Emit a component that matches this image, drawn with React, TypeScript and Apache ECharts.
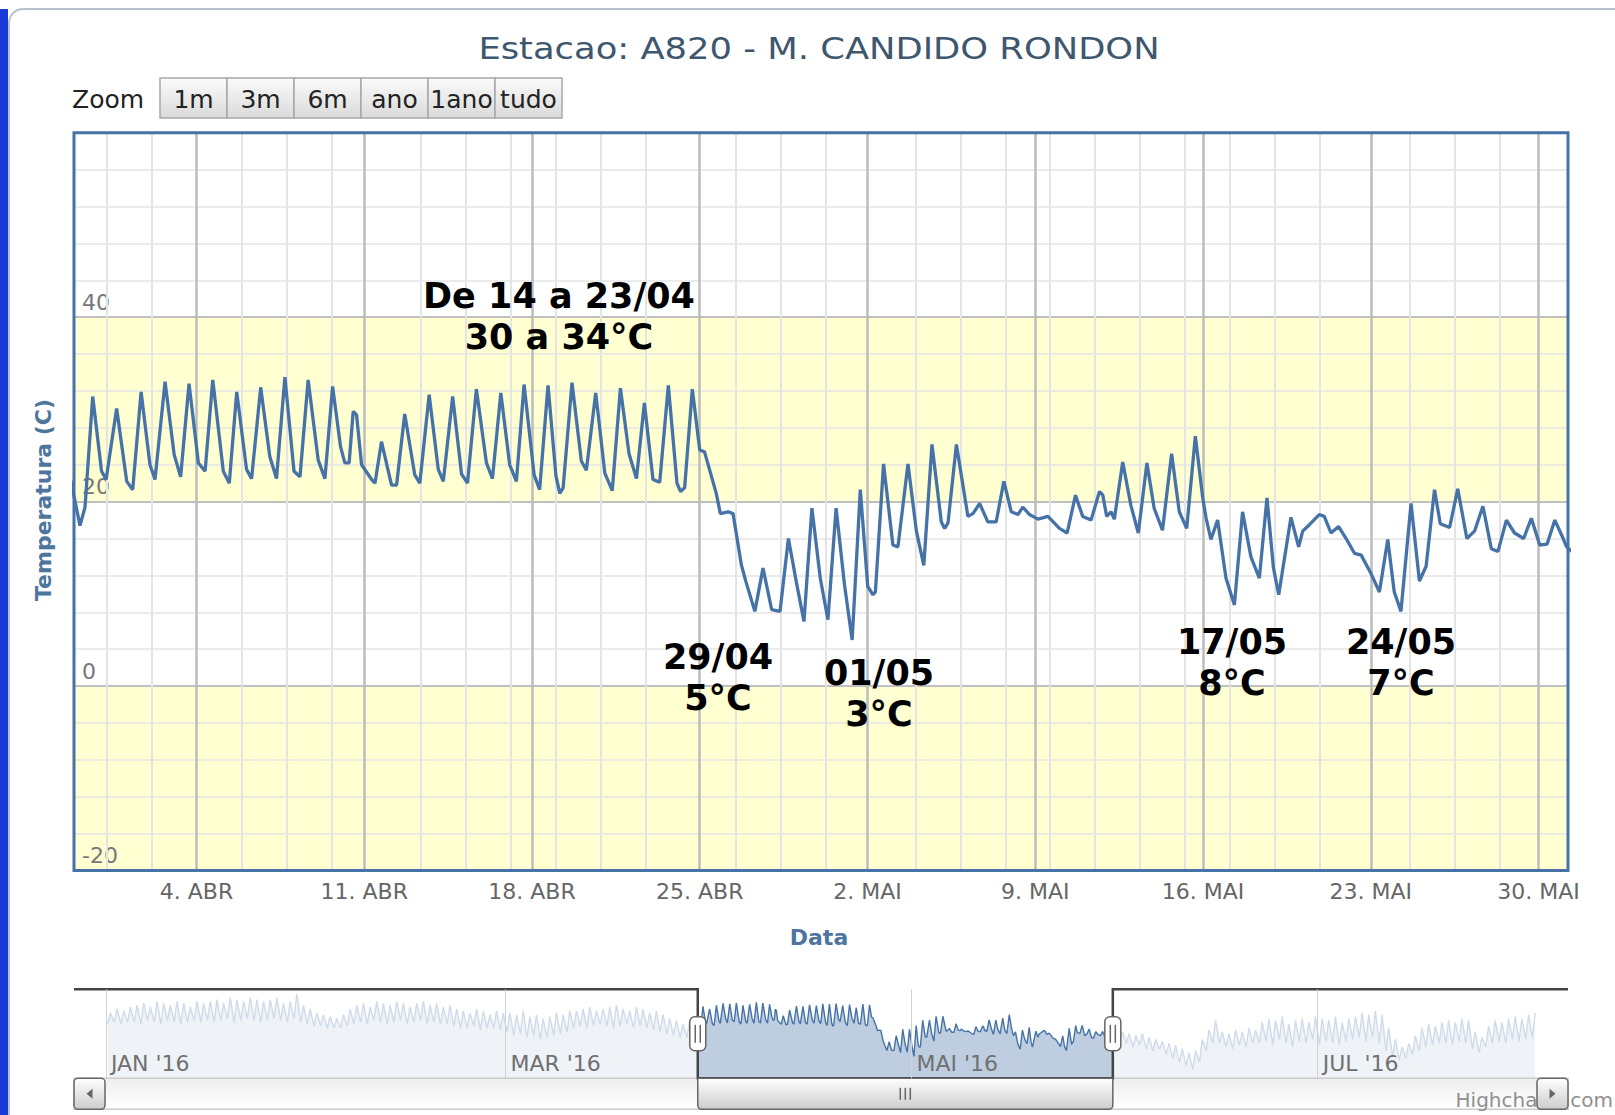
import React, { useEffect, useRef } from "react";
import * as echarts from "echarts";

// ---------------- texts ----------------
const TITLE = "Estacao: A820 - M. CANDIDO RONDON";
const Y_TITLE = "Temperatura (C)";
const X_TITLE = "Data";
const ZOOM_LABEL = "Zoom";
const ZOOM_BUTTONS = ["1m", "3m", "6m", "ano", "1ano", "tudo"];
const CREDIT = "Highcharts.com";
const MONTHS = ["JAN", "FEV", "MAR", "ABR", "MAI", "JUN", "JUL", "AGO", "SET", "OUT", "NOV", "DEZ"];
const ANNOTATIONS = [
  { lines: ["De 14 a 23/04", "30 a 34°C"], x: 559, y: 296 },
  { lines: ["29/04", "5°C"], x: 718, y: 657 },
  { lines: ["01/05", "3°C"], x: 879, y: 673 },
  { lines: ["17/05", "8°C"], x: 1232, y: 642 },
  { lines: ["24/05", "7°C"], x: 1401, y: 642 },
];

// ---------------- time base ----------------
// x unit: days since 2016-04-04 00:00
const DAY_MS = 86400000;
const EPOCH_UTC = Date.UTC(2016, 3, 4);
const dayOf = (y: number, m: number, d: number) => (Date.UTC(y, m, d) - EPOCH_UTC) / DAY_MS;

// visible window of the main chart
const VIEW_START = -5.11;
const VIEW_END = 57.23;
const WEEK_TICKS = [0, 7, 14, 21, 28, 35, 42, 49, 56];
const MINOR_STEP_DAYS = 1.875;
const MINOR_MIN_GAP = 0.55;

const Y_MIN = -20;
const Y_MAX = 60;
const Y_STEP = 20;

// navigator
const NAV_START = -98.8;
const NAV_END = 125.6;
const NAV_Y_MIN = -6.5;
const NAV_Y_MAX = 40.4;
const NAV_TICK_MONTHS = [0, 2, 4, 6];

// ---------------- data: main series (day offset, °C) ----------------
const sampleDay = [
  -5.3, -4.86, -4.65, -4.33,
  -3.96, -3.77, -3.33,
  -2.91, -2.66, -2.31,
  -1.94, -1.73, -1.31,
  -0.93, -0.66, -0.31,
  0.08, 0.36, 0.68,
  1.12, 1.37, 1.68,
  2.09, 2.3, 2.68,
  3.06, 3.34, 3.69,
  4.07, 4.32, 4.66,
  5.08, 5.36, 5.68,
  6.01, 6.19, 6.37, 6.54, 6.68,
  6.89, 7.31, 7.45, 7.72,
  8.14, 8.35, 8.69,
  9.11, 9.32, 9.71,
  10.09, 10.3, 10.69,
  11.06, 11.31, 11.68,
  12.1, 12.35, 12.7,
  13.07, 13.35, 13.67,
  14.09, 14.32, 14.67,
  15.0, 15.16, 15.3, 15.67,
  16.06, 16.27, 16.66,
  17.04, 17.35, 17.69,
  18.05, 18.36, 18.69,
  19.05, 19.33, 19.69,
  20.05, 20.2, 20.37, 20.69,
  21.0, 21.2, 21.69, 21.86,
  22.18, 22.39, 22.74, 22.93,
  23.3, 23.64, 24.0,
  24.35, 24.7, 25.03,
  25.35, 25.68, 26.03,
  26.35, 26.69, 27.04,
  27.36, 27.7, 28.01, 28.23, 28.33,
  28.67, 29.06, 29.27,
  29.69, 30.04, 30.35,
  30.69, 31.08, 31.22, 31.36,
  31.71, 32.19, 32.4,
  32.68, 33.02, 33.37,
  33.69, 34.0, 34.28,
  34.48, 34.76, 35.11,
  35.53, 36.01, 36.33,
  36.68, 36.98, 37.33,
  37.68, 37.82, 37.98, 38.16, 38.3,
  38.65, 38.99, 39.3,
  39.66, 39.96, 40.31,
  40.69, 41.01, 41.32,
  41.68, 41.99, 42.13, 42.33, 42.61,
  42.96, 43.31, 43.65,
  44.0, 44.35, 44.67,
  44.94, 45.16, 45.67,
  45.99, 46.16, 46.44, 46.85,
  47.06, 47.34, 47.66,
  47.97, 48.32, 48.6,
  49.01, 49.36, 49.71,
  49.98, 50.26, 50.68,
  51.03, 51.31, 51.66, 51.9,
  52.29, 52.63,
  53.01, 53.33, 53.68,
  54.03, 54.31, 54.66,
  55.0, 55.38, 55.7,
  56.05, 56.36, 56.68,
  57.03, 57.17, 57.4,
];
const temperature = [
  23.0, 17.4, 19.4, 31.4,
  23.3, 22.4, 30.1,
  22.2, 21.3, 31.9,
  24.0, 22.4, 33.0,
  25.1, 22.7, 32.8,
  24.2, 23.3, 33.2,
  23.3, 22.0, 31.9,
  23.5, 22.5, 32.4,
  24.9, 22.5, 33.5,
  23.3, 22.7, 33.2,
  24.5, 22.5, 32.5,
  26.0, 24.2, 24.2, 29.8, 29.4,
  24.0, 22.4, 22.0, 26.5,
  21.8, 21.8, 29.5,
  22.9, 22.0, 31.6,
  23.5, 22.2, 31.4,
  23.0, 22.0, 32.2,
  24.2, 22.5, 31.8,
  24.0, 22.2, 32.7,
  22.9, 21.3, 32.6,
  22.8, 20.9, 21.5, 32.9,
  24.4, 23.4, 31.8,
  23.1, 21.2, 32.3,
  25.2, 22.5, 30.7,
  22.4, 22.1, 32.6,
  22.0, 21.1, 21.5, 32.2,
  25.6, 25.4, 20.9, 18.7,
  18.9, 18.7, 13.1, 11.3,
  8.1, 12.8, 8.3,
  8.1, 16.0, 11.3,
  7.0, 19.3, 11.7,
  7.2, 19.3, 11.0,
  5.0, 21.3, 10.8, 9.9, 10.2,
  24.1, 15.3, 15.1,
  24.1, 16.8, 13.1,
  26.2, 17.8, 17.1, 17.7,
  26.2, 18.4, 18.7,
  19.8, 17.8, 17.8,
  22.2, 18.9, 18.6,
  19.4, 18.6, 18.1,
  18.4, 17.1, 16.6,
  20.7, 18.4, 18.0,
  21.1, 20.7, 18.4, 18.9, 18.1,
  24.3, 19.6, 16.6,
  24.2, 19.3, 16.9,
  25.2, 18.9, 17.1,
  27.1, 20.4, 18.2, 15.9, 18.0,
  11.7, 8.8, 18.9,
  14.0, 11.7, 20.4,
  12.8, 9.9, 18.3,
  15.1, 16.8, 17.5, 18.6,
  18.4, 16.6, 17.3,
  16.0, 14.4, 14.2,
  12.2, 10.2, 15.9,
  10.2, 8.1, 19.8,
  11.4, 13.0, 21.3, 17.6,
  17.2, 21.4,
  16.0, 16.8, 19.5,
  14.9, 14.6, 18.0,
  16.6, 16.0, 18.2,
  15.3, 15.4, 18.0,
  16.0, 15.1, 14.6,
];

// ---------------- data: navigator, outside the window (daily max / min) ----------------
// 2016-01-01 .. 2016-03-29
const navEarlyMax = [
  28, 30, 29, 31,
  32, 33, 31, 34, 33, 32, 34, 33, 31, 34, 33,
  34, 35, 33, 36, 35, 34, 36, 35, 34, 35, 36,
  33, 34,
  38,
  32, 30, 28, 27, 26, 25, 27,
  30, 32, 33, 31, 34, 33, 32, 34, 33, 31, 33, 34, 32, 33, 31, 32,
  30, 29, 28, 30, 29, 27, 29, 28,
  28, 27, 29, 26, 27, 25, 26, 28, 27, 29,
  29, 30, 31, 29, 30, 31, 32, 30, 29, 31, 30, 28, 29,
  27, 25, 24, 22, 24, 23,
];
const navEarlyMin = [
  22, 23, 22, 23,
  23, 22, 24, 23, 22, 24, 23, 22, 23, 24, 23,
  24, 23, 24, 25, 23, 24, 25, 24, 23, 24, 25,
  24, 23,
  25,
  23, 22, 21, 21, 20, 20, 20,
  21, 22, 23, 22, 24, 23, 22, 23, 24, 22, 23, 24, 22, 23, 22, 22,
  21, 20, 20, 21, 19, 20, 20, 19,
  18, 16, 17, 15, 16, 14, 15, 16, 17, 18,
  20, 21, 20, 21, 22, 21, 20, 21, 22, 20, 21, 20, 19,
  18, 17, 16, 15, 15, 17,
];
// 2016-06-01 .. 2016-08-02
const navLateMax = [
  18, 17, 16, 17, 15, 14, 13,
  12, 11, 9, 7, 8,
  14, 19, 24,
  18, 17, 19, 18, 20, 19,
  23, 25, 24, 26, 22, 24, 25, 23, 26, 25, 24, 26, 23, 25,
  26, 28, 27, 29, 27,
  20, 14, 10, 12, 16,
  20, 22, 21, 23,
  24, 23, 25, 24,
  18, 15,
  21, 24, 23, 25, 26, 25, 27, 28,
];
const navLateMin = [
  13, 12, 10, 11, 9, 8, 9,
  6, 4, 2, 0, -2,
  2, 8, 12,
  12, 10, 9, 11, 10, 12,
  12, 13, 11, 14, 12, 10, 13, 12, 14, 11, 13, 12, 11, 13,
  14, 15, 13, 15, 12,
  8, 5, 3, 4, 6,
  8, 10, 11, 12,
  12, 11, 13, 12,
  9, 7,
  10, 12, 13, 12, 14, 13, 14, 15,
];
const MIN_TIME_OF_DAY = 0.25;
const MAX_TIME_OF_DAY = 0.67;

// ---------------- layout ----------------
const W = 1615;
const H = 1115;
const PLOT = { left: 74, top: 132.8, width: 1494, height: 737.7 };
const NAV = { left: 74, top: 989.3, width: 1494, height: 89 };
const SCROLL_H = 31;
const FONT = '"DejaVu Sans", "Liberation Sans", sans-serif';

function weekLabel(v: number) {
  const dt = new Date(EPOCH_UTC + Math.round(v * DAY_MS));
  return `${dt.getUTCDate()}. ${MONTHS[dt.getUTCMonth()]}`;
}
function navLabel(v: number) {
  const dt = new Date(EPOCH_UTC + Math.round(v * DAY_MS));
  return `${MONTHS[dt.getUTCMonth()]} '${String(dt.getUTCFullYear()).slice(2)}`;
}

function buildOption() {
  const mainData = sampleDay.map((d, i) => [d, temperature[i]]);

  const minorTicks: number[] = [];
  for (let k = Math.ceil(VIEW_START / MINOR_STEP_DAYS); k * MINOR_STEP_DAYS <= VIEW_END; k++) {
    const v = k * MINOR_STEP_DAYS;
    const nearest = Math.round(v / 7) * 7;
    if (Math.abs(v - nearest) > MINOR_MIN_GAP) minorTicks.push(v);
  }

  const jan1 = dayOf(2016, 0, 1);
  const jun1 = dayOf(2016, 5, 1);
  const navData: number[][] = [];
  navEarlyMax.forEach((mx, i) => {
    navData.push([jan1 + i + MIN_TIME_OF_DAY, navEarlyMin[i]]);
    navData.push([jan1 + i + MAX_TIME_OF_DAY, mx]);
  });
  mainData.forEach((p) => navData.push(p));
  navLateMax.forEach((mx, i) => {
    navData.push([jun1 + i + MIN_TIME_OF_DAY, navLateMin[i]]);
    navData.push([jun1 + i + MAX_TIME_OF_DAY, mx]);
  });
  const navTicks = NAV_TICK_MONTHS.map((m) => dayOf(2016, m, 1));

  const grad = (a: string, b: string) =>
    new echarts.graphic.LinearGradient(0, 0, 0, 1, [
      { offset: 0, color: a },
      { offset: 1, color: b },
    ]);

  const renderNavigator = (params: any, api: any) => {
    const s = api.value(0);
    const e = api.value(1);
    const [xs, yTop] = api.coord([s, NAV_Y_MAX]);
    const [xe, yBot] = api.coord([e, NAV_Y_MIN]);
    const xl = api.coord([NAV_START, NAV_Y_MIN])[0];
    const xr = api.coord([NAV_END, NAV_Y_MIN])[0];
    const mid = (yTop + yBot) / 2;
    const sbMid = yBot + SCROLL_H / 2;
    const children: any[] = [];
    // masks
    children.push({ type: "rect", shape: { x: xl, y: yTop, width: xs - xl, height: yBot - yTop }, style: { fill: "rgba(255,255,255,0.75)" } });
    children.push({ type: "rect", shape: { x: xe, y: yTop, width: xr - xe, height: yBot - yTop }, style: { fill: "rgba(255,255,255,0.75)" } });
    // scrollbar track
    children.push({ type: "rect", shape: { x: xl, y: yBot, width: xr - xl, height: SCROLL_H }, style: { fill: grad("#eeeeee", "#ffffff"), stroke: "#cccccc", lineWidth: 1.5 } });
    // credits (under the right scroll button, as in the original)
    children.push({
      type: "text",
      x: W - 2,
      y: yBot + SCROLL_H / 2 + 6,
      style: { text: CREDIT, font: `20px ${FONT}`, fill: "#909090", textAlign: "right", textVerticalAlign: "middle" },
    });
    // outline
    children.push({
      type: "polyline",
      shape: { points: [[xl, yTop], [xs, yTop], [xs, yBot], [xe, yBot], [xe, yTop], [xr, yTop]] },
      style: { stroke: "#444444", lineWidth: 2.5, fill: null },
    });
    // scrollbar buttons
    const btn = (x: number, dir: number) => {
      children.push({ type: "rect", shape: { x, y: yBot, width: SCROLL_H, height: SCROLL_H, r: 4 }, style: { fill: grad("#ffffff", "#cccccc"), stroke: "#666666", lineWidth: 1.5 } });
      const cx = x + SCROLL_H / 2;
      children.push({
        type: "polygon",
        shape: { points: [[cx - 3 * dir, sbMid - 5], [cx - 3 * dir, sbMid + 5], [cx + 3 * dir, sbMid]] },
        style: { fill: "#666666" },
      });
    };
    btn(xl, -1);
    btn(xr - SCROLL_H, 1);
    // thumb
    children.push({ type: "rect", shape: { x: xs, y: yBot, width: xe - xs, height: SCROLL_H, r: [0, 0, 4, 4] }, style: { fill: grad("#ffffff", "#cccccc"), stroke: "#666666", lineWidth: 1.5 } });
    const tc = (xs + xe) / 2;
    [-5, 0, 5].forEach((dx) =>
      children.push({ type: "line", shape: { x1: tc + dx, y1: sbMid - 6, x2: tc + dx, y2: sbMid + 6 }, style: { stroke: "#666666", lineWidth: 1.5 } })
    );
    // handles
    [xs, xe].forEach((hx) => {
      children.push({ type: "rect", shape: { x: hx - 8, y: mid - 17, width: 16, height: 34, r: 5 }, style: { fill: "#ffffff", stroke: "#666666", lineWidth: 1.5 } });
      [-2.5, 2.5].forEach((dx) =>
        children.push({ type: "line", shape: { x1: hx + dx, y1: mid - 9, x2: hx + dx, y2: mid + 9 }, style: { stroke: "#666666", lineWidth: 1.5 } })
      );
    });
    return { type: "group", children };
  };

  // range selector buttons
  const BTN_X0 = 160;
  const BTN_W = 67;
  const BTN_Y = 78;
  const BTN_H = 40;
  const buttonEls: any[] = [];
  ZOOM_BUTTONS.forEach((b, i) => {
    buttonEls.push({
      type: "rect",
      shape: { x: BTN_X0 + i * BTN_W, y: BTN_Y, width: BTN_W, height: BTN_H },
      style: { fill: grad("#fbfbfb", "#dadada"), stroke: "#a8a8a8", lineWidth: 1.5 },
    });
    buttonEls.push({
      type: "text",
      x: BTN_X0 + i * BTN_W + BTN_W / 2,
      y: BTN_Y + BTN_H / 2 + 1,
      style: { text: b, font: `25px ${FONT}`, fill: "#222222", textAlign: "center", textVerticalAlign: "middle" },
    });
  });

  const annotationEls: any[] = [];
  ANNOTATIONS.forEach((a) => {
    a.lines.forEach((t, i) => {
      annotationEls.push({
        type: "text",
        x: a.x,
        y: a.y + i * 41,
        z: 20,
        style: { text: t, font: `bold 35px ${FONT}`, fill: "#000000", textAlign: "center", textVerticalAlign: "middle" },
      });
    });
  });

  return {
    animation: false,
    backgroundColor: "#ffffff",
    grid: [
      { left: PLOT.left, top: PLOT.top, width: PLOT.width, height: PLOT.height, show: false },
      { left: NAV.left, top: NAV.top, width: NAV.width, height: NAV.height, show: false },
    ],
    xAxis: [
      {
        type: "value",
        gridIndex: 0,
        min: VIEW_START,
        max: VIEW_END,
        position: "bottom",
        z: 1,
        axisLine: { show: false },
        axisTick: { show: false, customValues: WEEK_TICKS },
        axisLabel: { customValues: WEEK_TICKS, formatter: weekLabel, color: "#666666", fontSize: 22, fontFamily: FONT, margin: 10 },
        splitLine: { show: true, lineStyle: { color: "#BCBCBC", width: 2.5 } },
      },
      {
        type: "value",
        gridIndex: 0,
        min: VIEW_START,
        max: VIEW_END,
        position: "top",
        z: 1,
        axisLine: { show: false },
        axisTick: { show: false, customValues: minorTicks },
        axisLabel: { show: false, customValues: minorTicks },
        splitLine: { show: true, lineStyle: { color: "#E4E4E4", width: 2 } },
      },
      {
        type: "value",
        gridIndex: 1,
        min: NAV_START,
        max: NAV_END,
        z: 7,
        axisLine: { show: false },
        axisTick: { show: false, customValues: navTicks },
        axisLabel: { customValues: navTicks, formatter: navLabel, inside: true, align: "left", padding: [0, 0, 0, 5], margin: 4, color: "#707070", fontSize: 22, fontFamily: FONT },
        splitLine: { show: true, lineStyle: { color: "#D2D2D2", width: 1 } },
      },
    ],
    yAxis: [
      {
        type: "value",
        gridIndex: 0,
        min: Y_MIN,
        max: Y_MAX,
        interval: Y_STEP,
        z: 0,
        axisLine: { show: false },
        axisTick: { show: false },
        axisLabel: { inside: true, showMaxLabel: false, margin: 8, color: "#777777", fontSize: 22, fontFamily: FONT, verticalAlign: "bottom", padding: [0, 0, 4, 0] },
        splitLine: { show: true, lineStyle: { color: "#C0C0C0", width: 2 } },
        minorTick: { show: false, splitNumber: 5 },
        minorSplitLine: { show: true, lineStyle: { color: "#E4E4E4", width: 1.5 } },
        splitArea: { show: true, areaStyle: { color: ["#FFFFD2", "#FFFFFF"] } },
      },
      { type: "value", gridIndex: 1, min: NAV_Y_MIN, max: NAV_Y_MAX, show: false },
    ],
    series: [
      {
        type: "line",
        xAxisIndex: 0,
        yAxisIndex: 0,
        data: mainData,
        symbol: "none",
        z: 3,
        silent: true,
        lineStyle: { color: "#4572A7", width: 3.3 },
      },
      {
        type: "line",
        xAxisIndex: 2,
        yAxisIndex: 1,
        data: navData,
        symbol: "none",
        z: 2,
        silent: true,
        lineStyle: { color: "#4572A7", width: 1.4 },
        areaStyle: { color: "rgba(69,114,167,0.5)", origin: "start" },
      },
      {
        type: "custom",
        xAxisIndex: 2,
        yAxisIndex: 1,
        z: 5,
        silent: true,
        clip: false,
        data: [[VIEW_START, VIEW_END, 0]],
        encode: { x: [0, 1], y: 2 },
        renderItem: renderNavigator,
      },
    ],
    graphic: [
      { type: "rect", z: 0, shape: { x: 0, y: 9, width: 8, height: H - 9 }, style: { fill: "#1b3bd8" } },
      { type: "rect", z: 0, shape: { x: 9, y: 9, width: W + 40, height: H + 40, r: 14 }, style: { fill: null, stroke: "#b7c1cc", lineWidth: 2 } },
      {
        type: "text",
        x: 819,
        y: 48,
        scaleX: 1.14,
        style: { text: TITLE, font: `31px ${FONT}`, fill: "#3E576F", textAlign: "center", textVerticalAlign: "middle" },
      },
      { type: "text", x: 72, y: 99, style: { text: ZOOM_LABEL, font: `25px ${FONT}`, fill: "#222222", textAlign: "left", textVerticalAlign: "middle" } },
      ...buttonEls,
      {
        type: "text",
        x: 43,
        y: 500,
        rotation: Math.PI / 2,
        style: { text: Y_TITLE, font: `bold 22px ${FONT}`, fill: "#4D759E", textAlign: "center", textVerticalAlign: "middle" },
      },
      { type: "text", x: 819, y: 937, style: { text: X_TITLE, font: `bold 22px ${FONT}`, fill: "#4D759E", textAlign: "center", textVerticalAlign: "middle" } },
      {
        type: "rect",
        z: 10,
        shape: { x: PLOT.left, y: PLOT.top, width: PLOT.width, height: PLOT.height },
        style: { fill: null, stroke: "#4572A7", lineWidth: 3 },
      },
      ...annotationEls,
    ],
  };
}

export default function App() {
  const ref = useRef<HTMLDivElement>(null);
  useEffect(() => {
    const el = ref.current;
    if (!el) return;
    const chart = echarts.init(el, undefined, { renderer: "svg", width: W, height: H });
    chart.setOption(buildOption() as any);
    return () => chart.dispose();
  }, []);
  return <div ref={ref} style={{ position: "absolute", left: 0, top: 0, width: W, height: H }} />;
}
